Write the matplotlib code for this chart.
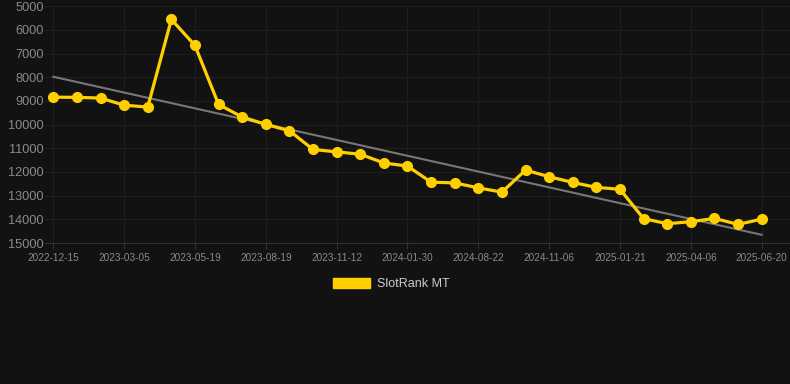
import numpy as np
import matplotlib
matplotlib.use("Agg")
import matplotlib.pyplot as plt
from matplotlib.patches import Patch

plt.rcParams['font.family'] = ['Liberation Sans', 'DejaVu Sans']

# rank values, one per observation (categorical x axis)
rank = [8840, 8850, 8880, 9180, 9260, 5560, 6660, 9150, 9680, 9990,
        10260, 11050, 11150, 11250, 11620, 11750, 12430, 12460, 12670, 12850,
        11920, 12200, 12440, 12650, 12730, 13970, 14180, 14100, 13960, 14210,
        13990]
tick_labels = ['2022-12-15', '2023-03-05', '2023-05-19', '2023-08-19', '2023-11-12',
               '2024-01-30', '2024-08-22', '2024-11-06', '2025-01-21', '2025-04-06',
               '2025-06-20']
trend_ends = [7980, 14650]
y_ticks = [5000, 6000, 7000, 8000, 9000, 10000, 11000, 12000, 13000, 14000, 15000]

BG = '#121212'
GOLD = '#FFD000'

fig = plt.figure(figsize=(7.9, 3.84), dpi=100, facecolor=BG)
ax = fig.add_axes([0.057, 0.367, 0.943, 0.617], facecolor=BG)

x = np.arange(len(rank))
ax.plot([x[0], x[-1]], trend_ends, color='#777777', lw=1.5, zorder=2)
ax.plot(x, rank, color=GOLD, lw=2.3, marker='o', ms=7, zorder=3)

ax.set_ylim(15000, 5000)
ax.set_xlim(-0.35, 31.2)
ax.set_yticks(y_ticks)
ax.set_xticks(x[::3])
ax.set_xticklabels(tick_labels)

ax.grid(True, color='#1f1f1f', lw=0.8)
for s in ['top', 'right', 'left']:
    ax.spines[s].set_visible(False)
ax.spines['bottom'].set_color('#303030')
ax.tick_params(axis='y', length=0, colors='#8a8a8a', labelsize=9.2, pad=1)
ax.tick_params(axis='x', length=4, color='#303030', colors='#8a8a8a', labelsize=7.2, pad=3)

handle = Patch(facecolor=GOLD, edgecolor=GOLD, label='SlotRank MT')
leg = fig.legend(handles=[handle], loc='center', bbox_to_anchor=(0.495, 0.26),
                 frameon=False, fontsize=9, handlelength=3.0, handleheight=0.9,
                 handletextpad=0.5)
for t in leg.get_texts():
    t.set_color('#cccccc')

fig.savefig('out.png', dpi=100, facecolor=BG)
